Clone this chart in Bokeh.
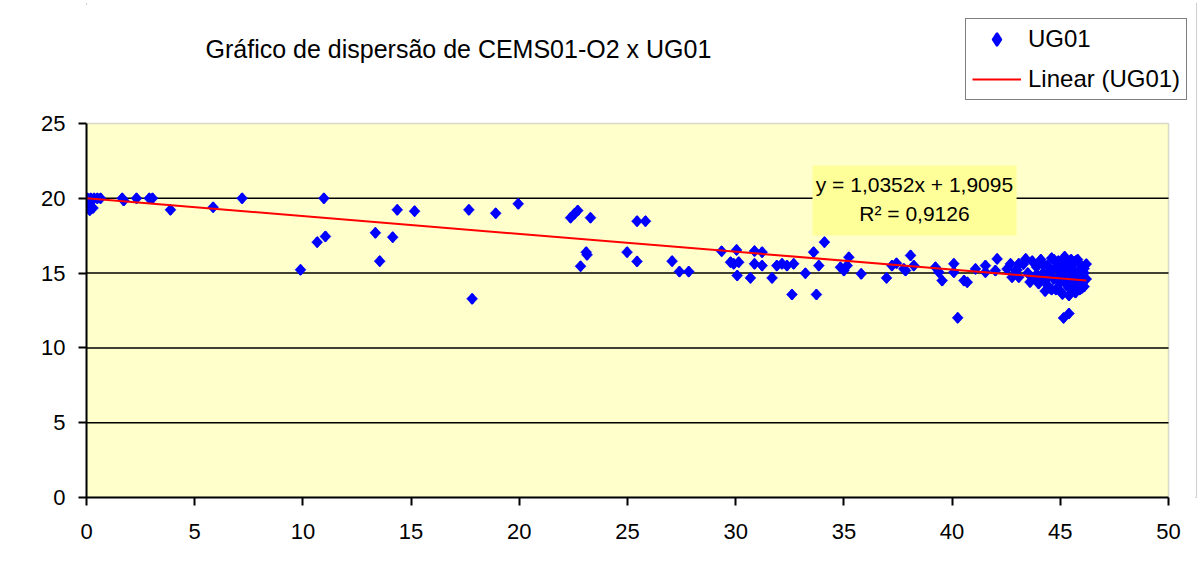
import numpy as np
from bokeh.plotting import figure
from bokeh.models import Range1d, Legend, LegendItem, Label, BoxAnnotation, FixedTicker
from bokeh.embed import file_html
from bokeh.resources import INLINE

# ---------------- data ----------------
title_text = "Gráfico de dispersão de CEMS01-O2 x UG01"
series_name = "UG01"
trend_name = "Linear (UG01)"
equation_text = "y = 1,0352x + 1,9095"
r2_text = "R² = 0,9126"

x_ticks = [0, 5, 10, 15, 20, 25, 30, 35, 40, 45, 50]
y_ticks = [0, 5, 10, 15, 20, 25]

ug01_x = [
    0.05, 0.2, 0.35, 0.5, 0.65, 0.1, 0.15, 0.3,
    1.65, 1.72, 2.31, 2.9, 3.05, 3.88, 5.85, 7.19,
    9.89, 10.97, 10.66, 11.04,
    13.35, 13.55, 14.15, 14.36, 15.16,
    17.67, 17.82, 18.91, 19.95,
    22.37, 22.55, 22.7, 23.29, 22.83, 23.09, 23.13, 24.98,
    25.44, 25.83, 25.44, 27.06, 27.4, 27.83, 29.35,
    30.04, 29.76, 29.91, 30.14, 30.07, 30.68, 30.87, 31.22, 30.87, 31.22,
    31.68, 31.9, 32.14, 32.37, 32.68, 32.6, 33.22, 33.6, 34.1, 33.84, 33.73,
    34.84, 35.0, 35.23, 35.15, 35.8, 36.97, 37.22, 37.43, 38.08, 37.85, 38.23,
    37.77, 39.23, 39.54, 39.39, 40.08, 40.08, 40.26, 40.7, 40.55, 41.08,
    41.54, 41.54, 42.08, 42.0, 42.7, 42.54, 42.93, 43.08, 42.77, 43.08, 43.4,
    43.0, 43.3, 43.5, 43.6, 43.8, 43.9, 44.0, 44.1, 44.2, 44.3, 44.4, 44.5,
    44.6, 44.6, 44.7, 44.8, 44.9, 45.0, 45.0, 45.1, 45.2, 45.3, 45.3, 45.4,
    45.5, 45.5, 45.6, 45.7, 45.7, 45.8, 45.9, 45.9, 46.0, 46.1, 46.2, 46.1,
    44.3, 45.2, 45.8,
    43.7, 43.9, 44.1, 44.2, 44.4, 44.5, 44.7, 44.8, 44.9, 45.0, 45.1, 45.2,
    45.3, 45.4, 45.5, 45.6, 45.6, 45.7, 45.8, 45.9, 46.0, 46.1, 46.2, 45.4,
    44.6, 45.0,
    45.15, 45.4,
]
ug01_y = [
    20.0, 20.0, 20.0, 20.0, 20.0, 19.5, 19.2, 19.35,
    20.0, 19.85, 20.0, 20.0, 20.0, 19.23, 19.4, 20.0,
    15.22, 20.0, 17.07, 17.45,
    17.69, 15.8, 17.4, 19.23, 19.14,
    19.23, 13.28, 19.0, 19.63,
    18.7, 18.96, 19.18, 18.7, 15.46, 16.4, 16.22, 16.4,
    18.47, 18.47, 15.78, 15.8, 15.1, 15.1, 16.46,
    16.55, 15.73, 15.62, 15.73, 14.84, 14.68, 16.47, 16.4, 15.62, 15.5,
    14.68, 15.5, 15.62, 15.5, 15.62, 13.57, 14.99, 16.4, 17.07, 15.5, 13.57,
    15.39, 15.17, 16.06, 15.5, 14.95, 14.68, 15.5, 15.66, 16.18, 15.17, 15.5,
    15.29, 15.39, 14.5, 15.06, 15.62, 15.06, 12.01, 14.39, 14.5, 15.28,
    15.5, 15.06, 15.95, 15.17, 15.62, 15.28, 15.17, 15.62, 14.73, 14.73, 15.95,
    15.2, 15.6, 15.0, 14.4, 14.7, 15.4, 14.3, 15.9, 15.0, 14.5, 15.5, 14.0,
    16.0, 15.2, 14.6, 13.9, 15.8, 14.4, 15.3, 13.6, 14.9, 15.8, 14.2, 13.5,
    15.4, 14.7, 13.9, 15.8, 14.3, 15.0, 13.9, 15.6, 14.6, 15.3, 15.6, 14.1,
    13.8, 16.1, 15.9,
    15.8, 14.9, 14.6, 15.6, 14.2, 15.0, 15.9, 15.4, 14.5, 13.8, 15.6, 14.4,
    15.1, 14.0, 15.9, 14.5, 15.2, 13.7, 14.6, 15.2, 14.0, 15.0, 14.6, 15.5,
    13.9, 14.9,
    12.0, 12.3,
]

trend_x = [0.0, 46.2]
trend_y = [20.0, 14.5]

# ---------------- layout (pixels) ----------------
FONT = "Liberation Sans"
W, H = 1200, 579
PLOT_L, PLOT_R, PLOT_T, PLOT_B = 86, 1168, 123, 497   # yellow plot area on the canvas
BORDER_R = 4
frame_right = W - BORDER_R

x0, x1 = x_ticks[0], x_ticks[-1]
y0, y1 = y_ticks[0], y_ticks[-1]
x_end = x0 + (x1 - x0) * (frame_right - PLOT_L) / (PLOT_R - PLOT_L)
y_end = y0 + (y1 - y0) * PLOT_B / (PLOT_B - PLOT_T)

p = figure(
    width=W, height=H,
    output_backend="svg", toolbar_location=None,
    x_range=Range1d(x0, x_end), y_range=Range1d(y0, y_end),
    min_border_left=PLOT_L, min_border_right=BORDER_R,
    min_border_top=0, min_border_bottom=H - PLOT_B,
    background_fill_color="white", border_fill_color="white",
    outline_line_color=None,
    styles={"outline": "2px solid #404040", "outline-offset": "-5px"},
)

for ax in (p.xaxis[0], p.yaxis[0]):
    ax.axis_line_color = "black"
    ax.axis_line_width = 2
    ax.major_tick_line_color = "black"
    ax.major_tick_line_width = 2
    ax.major_tick_in = 0
    ax.major_tick_out = 8
    ax.minor_tick_line_color = None
    ax.major_label_text_font = FONT
    ax.major_label_text_font_size = "22px"
    ax.major_label_text_color = "#000000"

p.xaxis[0].ticker = FixedTicker(ticks=x_ticks)
p.yaxis[0].ticker = FixedTicker(ticks=y_ticks)
p.xaxis[0].bounds = (x0, x1)
p.yaxis[0].bounds = (y0, y1)
p.xaxis[0].major_label_standoff = 18
p.yaxis[0].major_label_standoff = 13

p.xgrid.visible = False
p.ygrid.visible = False

# plot area (yellow) with grey outline
plot_area = BoxAnnotation(left=x0, right=x1, bottom=y0, top=y1, level="image",
                          fill_color="#FFFFCC", fill_alpha=1.0,
                          line_color="#808080", line_width=1.5)
p.add_layout(plot_area)

# horizontal grid lines
grid_y = y_ticks[1:-1]
p.segment(x0=[x0] * len(grid_y), y0=grid_y, x1=[x1] * len(grid_y), y1=grid_y,
          line_color="black", line_width=1.5)

# diamond-shaped key for the legend (drawn beneath the points, covered by them)
r_key = p.scatter(ug01_x, ug01_y, marker="diamond", size=8,
                  fill_color="#0000FF", line_color="#0000FF", line_width=3,
                  line_join="round")
r_pts = p.scatter(ug01_x, ug01_y, marker="square", angle=np.pi / 4, size=7.8,
                  fill_color="#0000FF", line_color="#0000FF", line_width=0.5)
r_line = p.line(trend_x, trend_y, line_color="#FF0000", line_width=2)

# title
p.add_layout(Label(x=5.5, y=30.0, text=title_text, text_align="left",
                   text_baseline="middle", text_font=FONT, text_font_size="25px",
                   text_color="#000000"))

# equation box
box = BoxAnnotation(left=33.55, right=42.98, bottom=17.51, top=22.19,
                    fill_color="#FFFF99", fill_alpha=1.0, line_color=None)
p.add_layout(box)
p.add_layout(Label(x=38.26, y=20.92, text=equation_text, text_align="center",
                   text_baseline="middle", text_font=FONT, text_font_size="21px",
                   text_color="#000000"))
p.add_layout(Label(x=38.26, y=19.0, text=r2_text, text_align="center",
                   text_baseline="middle", text_font=FONT, text_font_size="21px",
                   text_color="#000000"))

legend = Legend(
    items=[LegendItem(label=series_name, renderers=[r_key]),
           LegendItem(label=trend_name, renderers=[r_line])],
    location=(965 - PLOT_L, PLOT_B - 100),
    orientation="vertical",
    label_text_font=FONT, label_text_font_size="24px", label_text_color="#000000",
    glyph_width=49, glyph_height=28, label_height=28, label_standoff=7,
    spacing=12, padding=6, margin=0,
    border_line_color="black", border_line_width=1.5,
    background_fill_color="white", background_fill_alpha=1.0,
)
p.add_layout(legend)

open("out.html", "w").write(file_html(p, INLINE))
